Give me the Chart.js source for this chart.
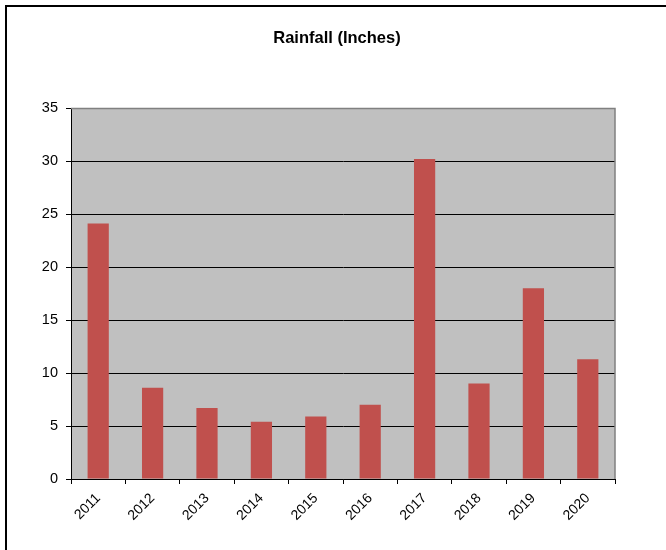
<!DOCTYPE html>
<html>
<head>
<meta charset="utf-8">
<script src="https://cdn.jsdelivr.net/npm/chart.js@4/dist/chart.umd.min.js"></script>
<style>
html,body{margin:0;padding:0;background:#fff;overflow:hidden;}
#wrap{position:relative;width:666px;height:550px;}
</style>
</head>
<body>
<div id="wrap"><canvas id="c" width="666" height="550"></canvas></div>
<script>
const years = ["2011","2012","2013","2014","2015","2016","2017","2018","2019","2020"];
const rainfall = [24.1, 8.6, 6.7, 5.4, 5.9, 7.0, 30.2, 9.0, 18.0, 11.3];
const titleText = "Rainfall (Inches)";
const FONT = "'Liberation Sans', Arial, sans-serif";

const decor = {
  id: 'decor',
  beforeDraw(chart) {
    const ctx = chart.ctx, a = chart.chartArea;
    ctx.save();
    ctx.fillStyle = '#fff';
    ctx.fillRect(0, 0, chart.width, chart.height);
    ctx.fillStyle = '#000';
    ctx.fillRect(5, 5, 2, chart.height - 5);
    ctx.fillRect(5, 5, chart.width - 5, 2);
    ctx.fillStyle = '#C0C0C0';
    ctx.fillRect(a.left, a.top, a.right - a.left, a.bottom - a.top);
    ctx.restore();
  },
  afterDatasetsDraw(chart) {
    const ctx = chart.ctx, a = chart.chartArea;
    ctx.save();
    ctx.strokeStyle = '#808080';
    ctx.lineWidth = 1.5;
    ctx.beginPath();
    ctx.moveTo(a.left, a.top + 0.5);
    ctx.lineTo(a.right, a.top + 0.5);
    ctx.lineTo(a.right, a.bottom);
    ctx.stroke();
    ctx.fillStyle = '#000';
    ctx.font = "bold 16.5px " + FONT;
    ctx.textAlign = 'center';
    ctx.textBaseline = 'middle';
    ctx.fillText(titleText, 337, 38);
    ctx.restore();
  }
};

new Chart(document.getElementById('c'), {
  type: 'bar',
  data: {
    labels: years,
    datasets: [{
      data: rainfall,
      backgroundColor: '#C0504D',
      borderWidth: 0,
      barPercentage: 0.39,
      categoryPercentage: 1.0
    }]
  },
  options: {
    responsive: false,
    animation: false,
    layout: { padding: { left: 0, right: 51, top: 108, bottom: 0 } },
    plugins: { legend: { display: false }, title: { display: false }, tooltip: { enabled: false } },
    scales: {
      x: {
        offset: true,
        grid: { offset: true, drawOnChartArea: false, drawTicks: true, tickLength: 5, color: '#000', tickColor: '#000' },
        border: { display: true, color: '#000', width: 1 },
        ticks: { color: '#000', font: { family: FONT, size: 14 }, minRotation: 45, maxRotation: 45, padding: 6 },
        afterFit(scale) { scale.height = 71; }
      },
      y: {
        min: 0, max: 35,
        ticks: { stepSize: 5, color: '#000', font: { family: FONT, size: 14.5 }, padding: 8 },
        grid: {
          color: ctx => (ctx.tick && ctx.tick.value === 35) ? 'rgba(0,0,0,0)' : '#000',
          tickColor: '#000', tickLength: 5, lineWidth: 1
        },
        border: { display: true, color: '#000', width: 1 },
        afterFit(scale) { scale.width = 71; }
      }
    }
  },
  plugins: [decor]
});
</script>
</body>
</html>
